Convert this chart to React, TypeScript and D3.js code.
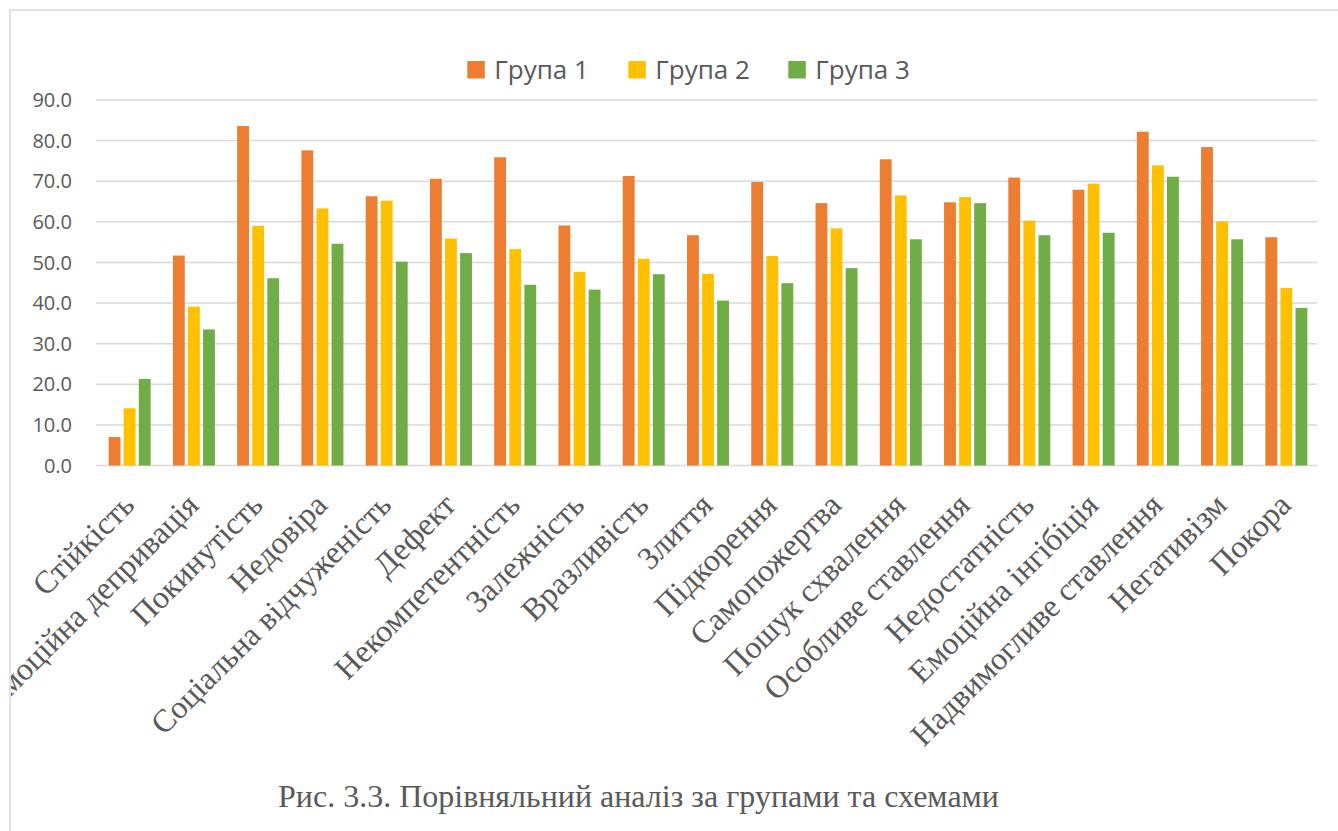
import React from "react";
import * as d3 from "d3";

// Категорії (схеми) та середні значення для трьох груп
const categories = [
  "Стійкість",
  "Емоційна депривація",
  "Покинутість",
  "Недовіра",
  "Соціальна відчуженість",
  "Дефект",
  "Некомпетентність",
  "Залежність",
  "Вразливість",
  "Злиття",
  "Підкорення",
  "Самопожертва",
  "Пошук схвалення",
  "Особливе ставлення",
  "Недостатність",
  "Емоційна інгібіція",
  "Надвимогливе ставлення",
  "Негативізм",
  "Покора",
];

const group1 = [7.0, 51.7, 83.6, 77.6, 66.3, 70.6, 75.9, 59.1, 71.3, 56.7, 69.8, 64.6, 75.4, 64.8, 70.9, 67.9, 82.2, 78.4, 56.2];
const group2 = [14.1, 39.1, 59.0, 63.3, 65.2, 55.9, 53.3, 47.7, 50.9, 47.2, 51.6, 58.4, 66.5, 66.1, 60.3, 69.4, 73.9, 60.1, 43.7];
const group3 = [21.3, 33.5, 46.1, 54.6, 50.2, 52.3, 44.5, 43.3, 47.1, 40.6, 44.9, 48.6, 55.7, 64.6, 56.7, 57.3, 71.1, 55.7, 38.8];

const seriesNames = ["Група 1", "Група 2", "Група 3"];
const seriesColors = ["#ED7D31", "#FFC000", "#70AD47"];
const yTicks = [0, 10, 20, 30, 40, 50, 60, 70, 80, 90];

const caption = "Рис. 3.3. Порівняльний аналіз за групами та схемами";

const W = 1338;
const H = 831;
const plot = { left: 96, right: 1317, top: 100, bottom: 465.5 };
const textColor = "#595959";
const gridColor = "#d9d9d9";
const sansFont = "'Open Sans', 'Noto Sans', sans-serif";
const serifFont = "'Liberation Serif', 'Times New Roman', serif";

export default function App() {
  const series = [group1, group2, group3];

  const x = d3
    .scaleBand<string>()
    .domain(categories)
    .range([plot.left, plot.right])
    .padding(0);

  const y = d3.scaleLinear().domain([0, 90]).range([plot.bottom, plot.top]);

  // Position of each bar inside a category band
  const inner = d3
    .scaleBand<number>()
    .domain([0, 1, 2])
    .range([0, 42])
    .paddingInner(3 / 14)
    .paddingOuter(0);
  const groupOffset = (x.bandwidth() - 42 + 3) / 2;

  const legendX = [467.3, 628.3, 788.3];

  return (
    <svg
      width={W}
      height={H}
      style={{ position: "absolute", left: 0, top: 0, background: "#fff" }}
    >
      <defs>
        <clipPath id="chart-area">
          <rect x={11} y={11} width={W} height={H} />
        </clipPath>
      </defs>
      <rect x={0} y={0} width={W} height={H} fill="#fff" />
      {/* chart frame */}
      <rect
        x={10}
        y={10}
        width={W + 20}
        height={H + 20}
        fill="none"
        stroke={gridColor}
        strokeWidth={1.5}
      />

      <g clipPath="url(#chart-area)">
        {/* legend */}
        {seriesNames.map((name, i) => (
          <g key={name}>
            <rect x={legendX[i]} y={61} width={17.5} height={17.5} fill={seriesColors[i]} />
            <text
              x={legendX[i] + 27}
              y={78.5}
              fontFamily={sansFont}
              fontSize={26}
              fill={textColor}
            >
              {name}
            </text>
          </g>
        ))}

        {/* gridlines */}
        {yTicks.map((t) => (
          <line
            key={t}
            x1={plot.left}
            x2={plot.right}
            y1={y(t)}
            y2={y(t)}
            stroke={gridColor}
            strokeWidth={1.5}
          />
        ))}

        {/* y tick labels */}
        {yTicks.map((t) => (
          <text
            key={t}
            x={72}
            y={y(t)}
            dy="0.36em"
            textAnchor="end"
            fontFamily={sansFont}
            fontSize={20}
            fill={textColor}
          >
            {d3.format(".1f")(t)}
          </text>
        ))}

        {/* bars */}
        {series.map((vals, si) =>
          vals.map((v, ci) => {
            const bx = (x(categories[ci]) as number) + groupOffset + (inner(si) as number);
            return (
              <rect
                key={`${si}-${ci}`}
                x={bx}
                y={y(v)}
                width={inner.bandwidth()}
                height={y(0) - y(v)}
                fill={seriesColors[si]}
              />
            );
          })
        )}

        {/* category labels */}
        {categories.map((c) => {
          const cx = (x(c) as number) + x.bandwidth() / 2;
          return (
            <text
              key={c}
              transform={`translate(${cx + 8},${507}) rotate(-45)`}
              textAnchor="end"
              fontFamily={serifFont}
              fontSize={32}
              fill={textColor}
            >
              {c}
            </text>
          );
        })}

        {/* caption */}
        <text x={278} y={806.7} fontFamily={serifFont} fontSize={32} fill={textColor}>
          {caption}
        </text>
      </g>
    </svg>
  );
}
